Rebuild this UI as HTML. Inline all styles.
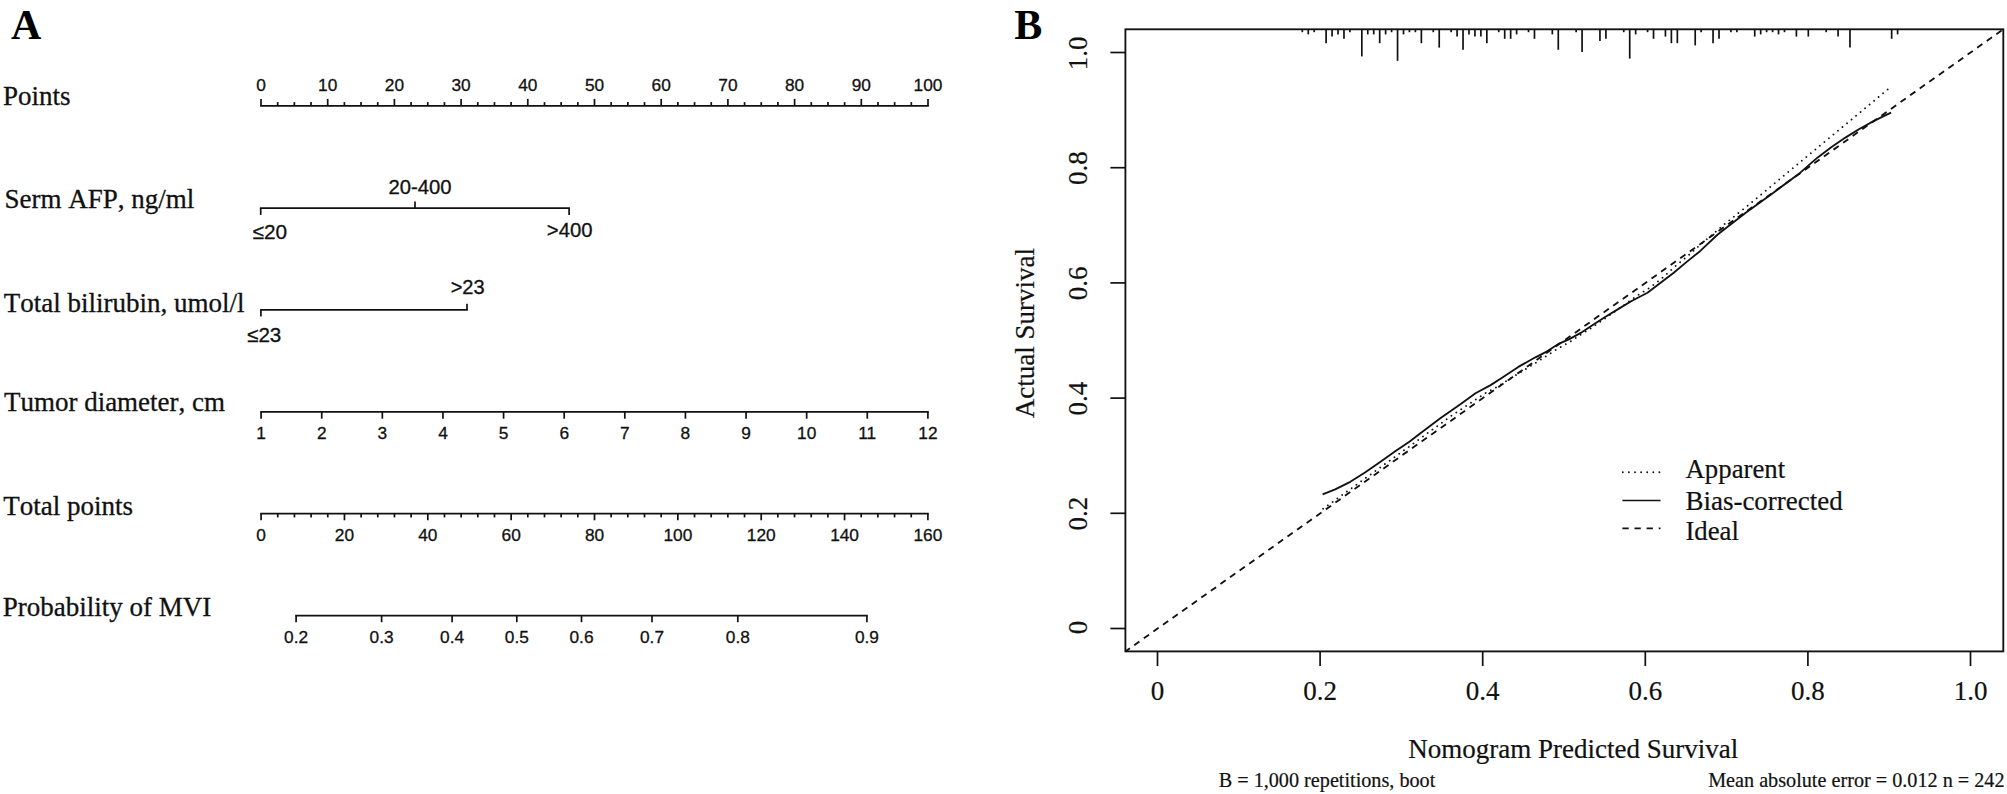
<!DOCTYPE html>
<html><head><meta charset="utf-8"><title>Nomogram and calibration</title>
<style>
html,body{margin:0;padding:0;background:#fff;}
svg{display:block;}
text{fill:#111;stroke:#111;stroke-width:0.3px;}
.nk{font-kerning:none;}
.ser{font-family:"Liberation Serif",serif;font-size:27px;font-kerning:none;}
.serb{font-family:"Liberation Serif",serif;font-size:27px;stroke-width:0.2px;}
.sm{font-family:"Liberation Serif",serif;font-size:20.2px;stroke-width:0.2px;}
.pl{font-family:"Liberation Serif",serif;font-size:42px;font-weight:bold;fill:#000;stroke:none;}
.ar{font-family:"Liberation Sans",sans-serif;font-size:17.3px;}
.sg{font-family:"Liberation Sans",sans-serif;font-size:20px;}
line,rect,polyline{stroke:#111;}
</style></head><body>
<svg width="2007" height="794" viewBox="0 0 2007 794">
<rect x="0" y="0" width="2007" height="794" style="fill:#fff;stroke:none"/>
<text x="10.90" y="38.80" class="pl" text-anchor="start" >A</text>
<text x="3.00" y="105.30" class="ser" text-anchor="start" >Points</text>
<line x1="260.15" y1="105.80" x2="928.85" y2="105.80" stroke-width="1.7" />
<line x1="261.00" y1="105.80" x2="261.00" y2="98.90" stroke-width="1.7" />
<text x="261.00" y="91.10" class="ar" text-anchor="middle" >0</text>
<line x1="277.68" y1="105.80" x2="277.68" y2="102.10" stroke-width="1.7" />
<line x1="294.35" y1="105.80" x2="294.35" y2="102.10" stroke-width="1.7" />
<line x1="311.02" y1="105.80" x2="311.02" y2="102.10" stroke-width="1.7" />
<line x1="327.70" y1="105.80" x2="327.70" y2="98.90" stroke-width="1.7" />
<text x="327.70" y="91.10" class="ar" text-anchor="middle" >10</text>
<line x1="344.38" y1="105.80" x2="344.38" y2="102.10" stroke-width="1.7" />
<line x1="361.05" y1="105.80" x2="361.05" y2="102.10" stroke-width="1.7" />
<line x1="377.73" y1="105.80" x2="377.73" y2="102.10" stroke-width="1.7" />
<line x1="394.40" y1="105.80" x2="394.40" y2="98.90" stroke-width="1.7" />
<text x="394.40" y="91.10" class="ar" text-anchor="middle" >20</text>
<line x1="411.07" y1="105.80" x2="411.07" y2="102.10" stroke-width="1.7" />
<line x1="427.75" y1="105.80" x2="427.75" y2="102.10" stroke-width="1.7" />
<line x1="444.43" y1="105.80" x2="444.43" y2="102.10" stroke-width="1.7" />
<line x1="461.10" y1="105.80" x2="461.10" y2="98.90" stroke-width="1.7" />
<text x="461.10" y="91.10" class="ar" text-anchor="middle" >30</text>
<line x1="477.77" y1="105.80" x2="477.77" y2="102.10" stroke-width="1.7" />
<line x1="494.45" y1="105.80" x2="494.45" y2="102.10" stroke-width="1.7" />
<line x1="511.12" y1="105.80" x2="511.12" y2="102.10" stroke-width="1.7" />
<line x1="527.80" y1="105.80" x2="527.80" y2="98.90" stroke-width="1.7" />
<text x="527.80" y="91.10" class="ar" text-anchor="middle" >40</text>
<line x1="544.48" y1="105.80" x2="544.48" y2="102.10" stroke-width="1.7" />
<line x1="561.15" y1="105.80" x2="561.15" y2="102.10" stroke-width="1.7" />
<line x1="577.83" y1="105.80" x2="577.83" y2="102.10" stroke-width="1.7" />
<line x1="594.50" y1="105.80" x2="594.50" y2="98.90" stroke-width="1.7" />
<text x="594.50" y="91.10" class="ar" text-anchor="middle" >50</text>
<line x1="611.17" y1="105.80" x2="611.17" y2="102.10" stroke-width="1.7" />
<line x1="627.85" y1="105.80" x2="627.85" y2="102.10" stroke-width="1.7" />
<line x1="644.52" y1="105.80" x2="644.52" y2="102.10" stroke-width="1.7" />
<line x1="661.20" y1="105.80" x2="661.20" y2="98.90" stroke-width="1.7" />
<text x="661.20" y="91.10" class="ar" text-anchor="middle" >60</text>
<line x1="677.88" y1="105.80" x2="677.88" y2="102.10" stroke-width="1.7" />
<line x1="694.55" y1="105.80" x2="694.55" y2="102.10" stroke-width="1.7" />
<line x1="711.23" y1="105.80" x2="711.23" y2="102.10" stroke-width="1.7" />
<line x1="727.90" y1="105.80" x2="727.90" y2="98.90" stroke-width="1.7" />
<text x="727.90" y="91.10" class="ar" text-anchor="middle" >70</text>
<line x1="744.58" y1="105.80" x2="744.58" y2="102.10" stroke-width="1.7" />
<line x1="761.25" y1="105.80" x2="761.25" y2="102.10" stroke-width="1.7" />
<line x1="777.92" y1="105.80" x2="777.92" y2="102.10" stroke-width="1.7" />
<line x1="794.60" y1="105.80" x2="794.60" y2="98.90" stroke-width="1.7" />
<text x="794.60" y="91.10" class="ar" text-anchor="middle" >80</text>
<line x1="811.27" y1="105.80" x2="811.27" y2="102.10" stroke-width="1.7" />
<line x1="827.95" y1="105.80" x2="827.95" y2="102.10" stroke-width="1.7" />
<line x1="844.62" y1="105.80" x2="844.62" y2="102.10" stroke-width="1.7" />
<line x1="861.30" y1="105.80" x2="861.30" y2="98.90" stroke-width="1.7" />
<text x="861.30" y="91.10" class="ar" text-anchor="middle" >90</text>
<line x1="877.98" y1="105.80" x2="877.98" y2="102.10" stroke-width="1.7" />
<line x1="894.65" y1="105.80" x2="894.65" y2="102.10" stroke-width="1.7" />
<line x1="911.33" y1="105.80" x2="911.33" y2="102.10" stroke-width="1.7" />
<line x1="928.00" y1="105.80" x2="928.00" y2="98.90" stroke-width="1.7" />
<text x="928.00" y="91.10" class="ar" text-anchor="middle" >100</text>
<text x="4.60" y="207.70" class="ser nk" text-anchor="start" >Serm AFP, ng/ml</text>
<line x1="259.85" y1="208.10" x2="569.95" y2="208.10" stroke-width="1.7" />
<line x1="260.70" y1="208.10" x2="260.70" y2="214.90" stroke-width="1.7" />
<line x1="569.10" y1="208.10" x2="569.10" y2="214.90" stroke-width="1.7" />
<line x1="415.00" y1="208.10" x2="415.00" y2="201.60" stroke-width="1.7" />
<text x="420.00" y="194.20" class="sg" text-anchor="middle" style="font-size:20.3px">20-400</text>
<text x="269.80" y="238.90" class="sg" text-anchor="middle" style="font-size:20.8px">≤20</text>
<text x="569.70" y="237.00" class="sg" text-anchor="middle" style="font-size:20.3px">&gt;400</text>
<text x="3.70" y="311.60" class="ser" text-anchor="start" >Total bilirubin, umol/l</text>
<line x1="260.05" y1="309.90" x2="467.85" y2="309.90" stroke-width="1.7" />
<line x1="260.90" y1="309.90" x2="260.90" y2="316.60" stroke-width="1.7" />
<line x1="467.00" y1="309.90" x2="467.00" y2="303.70" stroke-width="1.7" />
<text x="467.60" y="294.30" class="sg" text-anchor="middle" >&gt;23</text>
<text x="264.20" y="342.00" class="sg" text-anchor="middle" style="font-size:20.6px">≤23</text>
<text x="3.90" y="411.20" class="ser" text-anchor="start" >Tumor diameter, cm</text>
<line x1="260.25" y1="411.80" x2="928.75" y2="411.80" stroke-width="1.7" />
<line x1="261.10" y1="411.80" x2="261.10" y2="418.70" stroke-width="1.7" />
<text x="261.10" y="438.80" class="ar" text-anchor="middle" >1</text>
<line x1="321.72" y1="411.80" x2="321.72" y2="418.70" stroke-width="1.7" />
<text x="321.72" y="438.80" class="ar" text-anchor="middle" >2</text>
<line x1="382.34" y1="411.80" x2="382.34" y2="418.70" stroke-width="1.7" />
<text x="382.34" y="438.80" class="ar" text-anchor="middle" >3</text>
<line x1="442.95" y1="411.80" x2="442.95" y2="418.70" stroke-width="1.7" />
<text x="442.95" y="438.80" class="ar" text-anchor="middle" >4</text>
<line x1="503.57" y1="411.80" x2="503.57" y2="418.70" stroke-width="1.7" />
<text x="503.57" y="438.80" class="ar" text-anchor="middle" >5</text>
<line x1="564.19" y1="411.80" x2="564.19" y2="418.70" stroke-width="1.7" />
<text x="564.19" y="438.80" class="ar" text-anchor="middle" >6</text>
<line x1="624.81" y1="411.80" x2="624.81" y2="418.70" stroke-width="1.7" />
<text x="624.81" y="438.80" class="ar" text-anchor="middle" >7</text>
<line x1="685.43" y1="411.80" x2="685.43" y2="418.70" stroke-width="1.7" />
<text x="685.43" y="438.80" class="ar" text-anchor="middle" >8</text>
<line x1="746.05" y1="411.80" x2="746.05" y2="418.70" stroke-width="1.7" />
<text x="746.05" y="438.80" class="ar" text-anchor="middle" >9</text>
<line x1="806.66" y1="411.80" x2="806.66" y2="418.70" stroke-width="1.7" />
<text x="806.66" y="438.80" class="ar" text-anchor="middle" >10</text>
<line x1="867.28" y1="411.80" x2="867.28" y2="418.70" stroke-width="1.7" />
<text x="867.28" y="438.80" class="ar" text-anchor="middle" >11</text>
<line x1="927.90" y1="411.80" x2="927.90" y2="418.70" stroke-width="1.7" />
<text x="927.90" y="438.80" class="ar" text-anchor="middle" >12</text>
<text x="3.30" y="514.80" class="ser" text-anchor="start" >Total points</text>
<line x1="260.25" y1="513.60" x2="928.75" y2="513.60" stroke-width="1.7" />
<line x1="261.10" y1="513.60" x2="261.10" y2="520.30" stroke-width="1.7" />
<text x="261.10" y="540.80" class="ar" text-anchor="middle" >0</text>
<line x1="277.77" y1="513.60" x2="277.77" y2="517.40" stroke-width="1.7" />
<line x1="294.44" y1="513.60" x2="294.44" y2="517.40" stroke-width="1.7" />
<line x1="311.11" y1="513.60" x2="311.11" y2="517.40" stroke-width="1.7" />
<line x1="327.78" y1="513.60" x2="327.78" y2="517.40" stroke-width="1.7" />
<line x1="344.45" y1="513.60" x2="344.45" y2="520.30" stroke-width="1.7" />
<text x="344.45" y="540.80" class="ar" text-anchor="middle" >20</text>
<line x1="361.12" y1="513.60" x2="361.12" y2="517.40" stroke-width="1.7" />
<line x1="377.79" y1="513.60" x2="377.79" y2="517.40" stroke-width="1.7" />
<line x1="394.46" y1="513.60" x2="394.46" y2="517.40" stroke-width="1.7" />
<line x1="411.13" y1="513.60" x2="411.13" y2="517.40" stroke-width="1.7" />
<line x1="427.80" y1="513.60" x2="427.80" y2="520.30" stroke-width="1.7" />
<text x="427.80" y="540.80" class="ar" text-anchor="middle" >40</text>
<line x1="444.47" y1="513.60" x2="444.47" y2="517.40" stroke-width="1.7" />
<line x1="461.14" y1="513.60" x2="461.14" y2="517.40" stroke-width="1.7" />
<line x1="477.81" y1="513.60" x2="477.81" y2="517.40" stroke-width="1.7" />
<line x1="494.48" y1="513.60" x2="494.48" y2="517.40" stroke-width="1.7" />
<line x1="511.15" y1="513.60" x2="511.15" y2="520.30" stroke-width="1.7" />
<text x="511.15" y="540.80" class="ar" text-anchor="middle" >60</text>
<line x1="527.82" y1="513.60" x2="527.82" y2="517.40" stroke-width="1.7" />
<line x1="544.49" y1="513.60" x2="544.49" y2="517.40" stroke-width="1.7" />
<line x1="561.16" y1="513.60" x2="561.16" y2="517.40" stroke-width="1.7" />
<line x1="577.83" y1="513.60" x2="577.83" y2="517.40" stroke-width="1.7" />
<line x1="594.50" y1="513.60" x2="594.50" y2="520.30" stroke-width="1.7" />
<text x="594.50" y="540.80" class="ar" text-anchor="middle" >80</text>
<line x1="611.17" y1="513.60" x2="611.17" y2="517.40" stroke-width="1.7" />
<line x1="627.84" y1="513.60" x2="627.84" y2="517.40" stroke-width="1.7" />
<line x1="644.51" y1="513.60" x2="644.51" y2="517.40" stroke-width="1.7" />
<line x1="661.18" y1="513.60" x2="661.18" y2="517.40" stroke-width="1.7" />
<line x1="677.85" y1="513.60" x2="677.85" y2="520.30" stroke-width="1.7" />
<text x="677.85" y="540.80" class="ar" text-anchor="middle" >100</text>
<line x1="694.52" y1="513.60" x2="694.52" y2="517.40" stroke-width="1.7" />
<line x1="711.19" y1="513.60" x2="711.19" y2="517.40" stroke-width="1.7" />
<line x1="727.86" y1="513.60" x2="727.86" y2="517.40" stroke-width="1.7" />
<line x1="744.53" y1="513.60" x2="744.53" y2="517.40" stroke-width="1.7" />
<line x1="761.20" y1="513.60" x2="761.20" y2="520.30" stroke-width="1.7" />
<text x="761.20" y="540.80" class="ar" text-anchor="middle" >120</text>
<line x1="777.87" y1="513.60" x2="777.87" y2="517.40" stroke-width="1.7" />
<line x1="794.54" y1="513.60" x2="794.54" y2="517.40" stroke-width="1.7" />
<line x1="811.21" y1="513.60" x2="811.21" y2="517.40" stroke-width="1.7" />
<line x1="827.88" y1="513.60" x2="827.88" y2="517.40" stroke-width="1.7" />
<line x1="844.55" y1="513.60" x2="844.55" y2="520.30" stroke-width="1.7" />
<text x="844.55" y="540.80" class="ar" text-anchor="middle" >140</text>
<line x1="861.22" y1="513.60" x2="861.22" y2="517.40" stroke-width="1.7" />
<line x1="877.89" y1="513.60" x2="877.89" y2="517.40" stroke-width="1.7" />
<line x1="894.56" y1="513.60" x2="894.56" y2="517.40" stroke-width="1.7" />
<line x1="911.23" y1="513.60" x2="911.23" y2="517.40" stroke-width="1.7" />
<line x1="927.90" y1="513.60" x2="927.90" y2="520.30" stroke-width="1.7" />
<text x="927.90" y="540.80" class="ar" text-anchor="middle" >160</text>
<text x="2.80" y="616.40" class="ser" text-anchor="start" >Probability of MVI</text>
<line x1="295.25" y1="615.60" x2="867.75" y2="615.60" stroke-width="1.7" />
<line x1="296.10" y1="615.60" x2="296.10" y2="622.20" stroke-width="1.7" />
<text x="296.10" y="642.70" class="ar" text-anchor="middle" >0.2</text>
<line x1="381.60" y1="615.60" x2="381.60" y2="622.20" stroke-width="1.7" />
<text x="381.60" y="642.70" class="ar" text-anchor="middle" >0.3</text>
<line x1="452.10" y1="615.60" x2="452.10" y2="622.20" stroke-width="1.7" />
<text x="452.10" y="642.70" class="ar" text-anchor="middle" >0.4</text>
<line x1="516.80" y1="615.60" x2="516.80" y2="622.20" stroke-width="1.7" />
<text x="516.80" y="642.70" class="ar" text-anchor="middle" >0.5</text>
<line x1="581.50" y1="615.60" x2="581.50" y2="622.20" stroke-width="1.7" />
<text x="581.50" y="642.70" class="ar" text-anchor="middle" >0.6</text>
<line x1="652.00" y1="615.60" x2="652.00" y2="622.20" stroke-width="1.7" />
<text x="652.00" y="642.70" class="ar" text-anchor="middle" >0.7</text>
<line x1="737.80" y1="615.60" x2="737.80" y2="622.20" stroke-width="1.7" />
<text x="737.80" y="642.70" class="ar" text-anchor="middle" >0.8</text>
<line x1="866.90" y1="615.60" x2="866.90" y2="622.20" stroke-width="1.7" />
<text x="866.90" y="642.70" class="ar" text-anchor="middle" >0.9</text>
<text x="1014.30" y="38.80" class="pl" text-anchor="start" >B</text>
<rect x="1125.4" y="29.3" width="877.90" height="622.10" fill="none" stroke-width="1.85"/>
<line x1="1157.50" y1="651.40" x2="1157.50" y2="666.10" stroke-width="1.7" />
<text x="1157.50" y="699.70" class="serb" text-anchor="middle" >0</text>
<line x1="1125.40" y1="628.50" x2="1110.40" y2="628.50" stroke-width="1.7" />
<text transform="translate(1086.6,627.60) rotate(-90)" class="serb" text-anchor="middle">0</text>
<line x1="1320.10" y1="651.40" x2="1320.10" y2="666.10" stroke-width="1.7" />
<text x="1320.10" y="699.70" class="serb" text-anchor="middle" >0.2</text>
<line x1="1125.40" y1="513.30" x2="1110.40" y2="513.30" stroke-width="1.7" />
<text transform="translate(1086.6,513.70) rotate(-90)" class="serb" text-anchor="middle">0.2</text>
<line x1="1482.70" y1="651.40" x2="1482.70" y2="666.10" stroke-width="1.7" />
<text x="1482.70" y="699.70" class="serb" text-anchor="middle" >0.4</text>
<line x1="1125.40" y1="398.10" x2="1110.40" y2="398.10" stroke-width="1.7" />
<text transform="translate(1086.6,398.50) rotate(-90)" class="serb" text-anchor="middle">0.4</text>
<line x1="1645.30" y1="651.40" x2="1645.30" y2="666.10" stroke-width="1.7" />
<text x="1645.30" y="699.70" class="serb" text-anchor="middle" >0.6</text>
<line x1="1125.40" y1="282.90" x2="1110.40" y2="282.90" stroke-width="1.7" />
<text transform="translate(1086.6,283.30) rotate(-90)" class="serb" text-anchor="middle">0.6</text>
<line x1="1807.90" y1="651.40" x2="1807.90" y2="666.10" stroke-width="1.7" />
<text x="1807.90" y="699.70" class="serb" text-anchor="middle" >0.8</text>
<line x1="1125.40" y1="167.70" x2="1110.40" y2="167.70" stroke-width="1.7" />
<text transform="translate(1086.6,168.10) rotate(-90)" class="serb" text-anchor="middle">0.8</text>
<line x1="1970.50" y1="651.40" x2="1970.50" y2="666.10" stroke-width="1.7" />
<text x="1970.50" y="699.70" class="serb" text-anchor="middle" >1.0</text>
<line x1="1125.40" y1="52.50" x2="1110.40" y2="52.50" stroke-width="1.7" />
<text transform="translate(1086.6,53.30) rotate(-90)" class="serb" text-anchor="middle">1.0</text>
<text transform="translate(1033.9,333.2) rotate(-90)" class="serb" text-anchor="middle">Actual Survival</text>
<text x="1573.20" y="757.70" class="serb" text-anchor="middle" >Nomogram Predicted Survival</text>
<text x="1218.70" y="786.60" class="sm" text-anchor="start" >B = 1,000 repetitions, boot</text>
<text x="2004.50" y="786.60" class="sm" text-anchor="end" >Mean absolute error = 0.012 n = 242</text>
<line x1="1302.30" y1="29.30" x2="1302.30" y2="32.20" stroke-width="1.7" />
<line x1="1308.25" y1="29.30" x2="1308.25" y2="34.40" stroke-width="1.7" />
<line x1="1314.21" y1="29.30" x2="1314.21" y2="32.20" stroke-width="1.7" />
<line x1="1326.11" y1="29.30" x2="1326.11" y2="43.20" stroke-width="1.7" />
<line x1="1332.07" y1="29.30" x2="1332.07" y2="36.60" stroke-width="1.7" />
<line x1="1338.02" y1="29.30" x2="1338.02" y2="34.40" stroke-width="1.7" />
<line x1="1343.97" y1="29.30" x2="1343.97" y2="38.80" stroke-width="1.7" />
<line x1="1349.92" y1="29.30" x2="1349.92" y2="32.20" stroke-width="1.7" />
<line x1="1361.83" y1="29.30" x2="1361.83" y2="56.40" stroke-width="1.7" />
<line x1="1367.78" y1="29.30" x2="1367.78" y2="34.40" stroke-width="1.7" />
<line x1="1373.74" y1="29.30" x2="1373.74" y2="34.40" stroke-width="1.7" />
<line x1="1379.69" y1="29.30" x2="1379.69" y2="43.20" stroke-width="1.7" />
<line x1="1385.64" y1="29.30" x2="1385.64" y2="34.40" stroke-width="1.7" />
<line x1="1391.60" y1="29.30" x2="1391.60" y2="32.20" stroke-width="1.7" />
<line x1="1397.55" y1="29.30" x2="1397.55" y2="60.80" stroke-width="1.7" />
<line x1="1403.50" y1="29.30" x2="1403.50" y2="34.40" stroke-width="1.7" />
<line x1="1409.45" y1="29.30" x2="1409.45" y2="32.20" stroke-width="1.7" />
<line x1="1415.41" y1="29.30" x2="1415.41" y2="32.20" stroke-width="1.7" />
<line x1="1421.36" y1="29.30" x2="1421.36" y2="43.20" stroke-width="1.7" />
<line x1="1433.27" y1="29.30" x2="1433.27" y2="32.20" stroke-width="1.7" />
<line x1="1439.22" y1="29.30" x2="1439.22" y2="47.60" stroke-width="1.7" />
<line x1="1451.12" y1="29.30" x2="1451.12" y2="32.20" stroke-width="1.7" />
<line x1="1457.08" y1="29.30" x2="1457.08" y2="36.60" stroke-width="1.7" />
<line x1="1463.03" y1="29.30" x2="1463.03" y2="49.80" stroke-width="1.7" />
<line x1="1468.98" y1="29.30" x2="1468.98" y2="34.40" stroke-width="1.7" />
<line x1="1474.94" y1="29.30" x2="1474.94" y2="36.60" stroke-width="1.7" />
<line x1="1480.89" y1="29.30" x2="1480.89" y2="36.60" stroke-width="1.7" />
<line x1="1486.84" y1="29.30" x2="1486.84" y2="43.20" stroke-width="1.7" />
<line x1="1498.75" y1="29.30" x2="1498.75" y2="32.20" stroke-width="1.7" />
<line x1="1504.70" y1="29.30" x2="1504.70" y2="38.80" stroke-width="1.7" />
<line x1="1510.65" y1="29.30" x2="1510.65" y2="38.80" stroke-width="1.7" />
<line x1="1516.61" y1="29.30" x2="1516.61" y2="34.40" stroke-width="1.7" />
<line x1="1528.51" y1="29.30" x2="1528.51" y2="32.20" stroke-width="1.7" />
<line x1="1534.47" y1="29.30" x2="1534.47" y2="38.80" stroke-width="1.7" />
<line x1="1552.33" y1="29.30" x2="1552.33" y2="34.40" stroke-width="1.7" />
<line x1="1558.28" y1="29.30" x2="1558.28" y2="49.80" stroke-width="1.7" />
<line x1="1576.14" y1="29.30" x2="1576.14" y2="32.20" stroke-width="1.7" />
<line x1="1582.09" y1="29.30" x2="1582.09" y2="52.00" stroke-width="1.7" />
<line x1="1599.95" y1="29.30" x2="1599.95" y2="41.00" stroke-width="1.7" />
<line x1="1605.90" y1="29.30" x2="1605.90" y2="38.80" stroke-width="1.7" />
<line x1="1623.76" y1="29.30" x2="1623.76" y2="32.20" stroke-width="1.7" />
<line x1="1629.71" y1="29.30" x2="1629.71" y2="58.60" stroke-width="1.7" />
<line x1="1635.67" y1="29.30" x2="1635.67" y2="34.40" stroke-width="1.7" />
<line x1="1647.57" y1="29.30" x2="1647.57" y2="32.20" stroke-width="1.7" />
<line x1="1653.53" y1="29.30" x2="1653.53" y2="38.80" stroke-width="1.7" />
<line x1="1665.43" y1="29.30" x2="1665.43" y2="36.60" stroke-width="1.7" />
<line x1="1671.39" y1="29.30" x2="1671.39" y2="43.20" stroke-width="1.7" />
<line x1="1677.34" y1="29.30" x2="1677.34" y2="43.20" stroke-width="1.7" />
<line x1="1695.20" y1="29.30" x2="1695.20" y2="45.40" stroke-width="1.7" />
<line x1="1701.15" y1="29.30" x2="1701.15" y2="32.20" stroke-width="1.7" />
<line x1="1713.06" y1="29.30" x2="1713.06" y2="43.20" stroke-width="1.7" />
<line x1="1719.01" y1="29.30" x2="1719.01" y2="38.80" stroke-width="1.7" />
<line x1="1730.92" y1="29.30" x2="1730.92" y2="32.20" stroke-width="1.7" />
<line x1="1736.87" y1="29.30" x2="1736.87" y2="32.20" stroke-width="1.7" />
<line x1="1754.73" y1="29.30" x2="1754.73" y2="36.60" stroke-width="1.7" />
<line x1="1760.68" y1="29.30" x2="1760.68" y2="34.40" stroke-width="1.7" />
<line x1="1766.63" y1="29.30" x2="1766.63" y2="32.20" stroke-width="1.7" />
<line x1="1772.59" y1="29.30" x2="1772.59" y2="32.20" stroke-width="1.7" />
<line x1="1778.54" y1="29.30" x2="1778.54" y2="34.40" stroke-width="1.7" />
<line x1="1784.49" y1="29.30" x2="1784.49" y2="32.20" stroke-width="1.7" />
<line x1="1796.40" y1="29.30" x2="1796.40" y2="36.60" stroke-width="1.7" />
<line x1="1808.31" y1="29.30" x2="1808.31" y2="36.60" stroke-width="1.7" />
<line x1="1826.16" y1="29.30" x2="1826.16" y2="32.20" stroke-width="1.7" />
<line x1="1838.07" y1="29.30" x2="1838.07" y2="36.60" stroke-width="1.7" />
<line x1="1849.98" y1="29.30" x2="1849.98" y2="47.60" stroke-width="1.7" />
<line x1="1891.65" y1="29.30" x2="1891.65" y2="38.80" stroke-width="1.7" />
<line x1="1897.60" y1="29.30" x2="1897.60" y2="34.40" stroke-width="1.7" />
<line x1="1125.4" y1="651.4" x2="2003.3" y2="29.3" stroke-width="1.85" stroke-dasharray="6.4 5.34" stroke-dashoffset="0.9"/>
<polyline fill="none" stroke-width="1.85" stroke-linejoin="round" points="1322.6,494.4 1335.2,489.3 1350.3,481.8 1365.4,472.2 1380.5,461.7 1395.6,451.1 1409.7,441.5 1420.1,433.4 1440.3,418.3 1460.4,404.2 1475.5,393.2 1490.6,385.1 1501.3,378.2 1518.3,366.9 1535.4,357.3 1546.7,351.6 1558.0,344.2 1569.4,339.1 1580.7,332.9 1592.0,325.5 1603.9,317.7 1617.7,309.4 1631.6,301.0 1647.5,292.7 1659.3,283.7 1673.1,273.3 1687.0,261.6 1700.0,251.2 1717.7,234.5 1745.4,213.0 1773.1,192.9 1800.0,172.9 1817.7,157.4 1831.6,147.0 1845.4,137.6 1859.3,129.0 1873.1,121.4 1884.2,115.9 1891.1,112.7"/>
<polyline fill="none" stroke-width="1.85" stroke-linejoin="round" stroke-linecap="round" stroke-dasharray="0.01 5.86" points="1323.1,508.8 1408.6,447.0 1451.4,415.8 1485.6,393.0 1496.7,387.1 1541.0,359.5 1555.8,349.9 1571.6,340.8 1580.7,334.6 1590.9,328.3 1617.7,309.6 1638.5,294.8 1649.6,287.9 1662.0,278.2 1675.9,265.7 1687.0,256.7 1695.3,249.1 1724.6,224.1 1752.3,202.0 1773.1,184.6 1798.0,163.9 1824.6,141.8 1856.5,115.5 1888.4,88.9"/>
<line x1="1622.8" y1="472.2" x2="1660" y2="472.2" stroke-width="1.85" stroke-linecap="round" stroke-dasharray="0.01 6.09"/>
<line x1="1622.40" y1="500.50" x2="1660.50" y2="500.50" stroke-width="1.7" />
<line x1="1622.4" y1="528.4" x2="1660.5" y2="528.4" stroke-width="1.85" stroke-dasharray="6.3 5.8"/>
<text x="1685.50" y="477.80" class="serb" text-anchor="start" style="font-size:26.8px">Apparent</text>
<text x="1685.40" y="509.80" class="serb" text-anchor="start" >Bias-corrected</text>
<text x="1685.40" y="539.80" class="serb" text-anchor="start" style="font-size:26.8px">Ideal</text>
</svg>
</body></html>
